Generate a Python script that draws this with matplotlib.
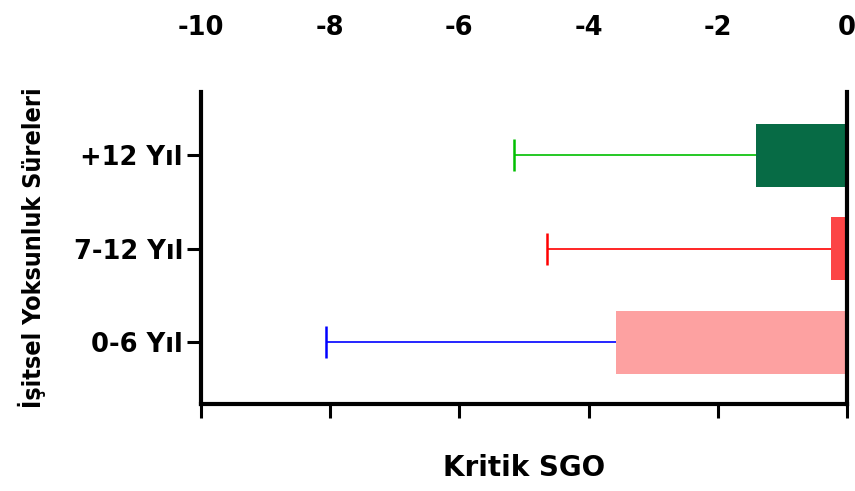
import matplotlib
matplotlib.use("Agg")
import matplotlib.pyplot as plt

# --- Data ---
categories = ["0-6 Yıl", "7-12 Yıl", "+12 Yıl"]
bar_values = [-3.57, -0.25, -1.41]
err_ends = [-8.07, -4.65, -5.15]
bar_colors = ["#fda1a1", "#fc4546", "#076b45"]
err_colors = ["#0000ff", "#ff0000", "#00bf00"]
x_ticks = [-10, -8, -6, -4, -2, 0]

TICK_FONT = {"family": "DejaVu Sans", "weight": "bold", "size": 18.5}

fig = plt.figure(figsize=(8.55, 4.91), dpi=100)
ax = fig.add_axes([0.2351, 0.177, 0.9906 - 0.2351, 0.8126 - 0.177])

ypos = list(range(len(categories)))

# error whiskers (lower side only) drawn under the bars
for y, v, e, c in zip(ypos, bar_values, err_ends, err_colors):
    ax.hlines(y, e, v, color=c, linewidth=1.2, zorder=1)
    ax.plot([e], [y], marker="|", markersize=23, markeredgewidth=1.8, color=c, zorder=1)

ax.barh(ypos, bar_values, height=0.674, color=bar_colors, zorder=2)

ax.set_xlim(-10, 0)
ax.set_ylim(-0.663, 2.674)

ax.set_xticks(x_ticks)
ax.set_xticklabels([str(t) for t in x_ticks], fontdict=TICK_FONT)
ax.set_yticks(ypos)
ax.set_yticklabels(categories, fontdict=TICK_FONT)

ax.tick_params(axis="x", bottom=True, top=False, labelbottom=False, labeltop=True,
               length=10, width=2.2, pad=27, direction="out")
ax.tick_params(axis="y", left=True, length=10, width=2.2, pad=3)

for side in ["left", "bottom", "right"]:
    ax.spines[side].set_linewidth(3)
ax.spines["top"].set_visible(False)
ax.spines["right"].set_zorder(3)

ax.set_xlabel("Kritik SGO", fontdict={"family": "DejaVu Sans", "weight": "bold", "size": 20},
              labelpad=26)
ax.set_ylabel("İşitsel Yoksunluk Süreleri",
              fontdict={"family": "DejaVu Sans", "stretch": "condensed", "weight": "bold", "size": 18},
              labelpad=20)

fig.savefig("out.png", dpi=100)
